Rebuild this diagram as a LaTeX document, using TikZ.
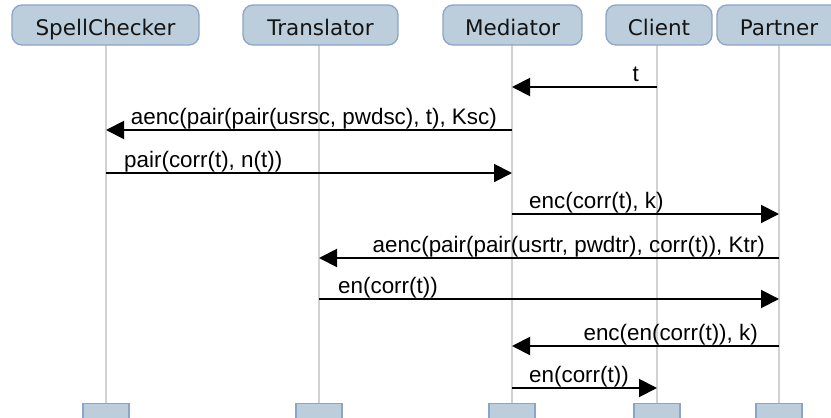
\documentclass[tikz,border=0pt]{standalone}
\usepackage{fontspec}
\setmainfont{Liberation Sans}
\newfontfamily\headfont{DejaVu Sans}
\usetikzlibrary{arrows.meta,calc}
\definecolor{boxfill}{RGB}{188,206,219}
\definecolor{boxline}{RGB}{140,164,198}
\definecolor{lifegray}{RGB}{210,210,210}
\definecolor{headtext}{RGB}{20,20,20}
\tikzset{
  head/.style={draw=boxline, line width=1.3pt, fill=boxfill, rounded corners=10pt,
    minimum height=40pt, inner sep=0pt, text height=20pt, text depth=0pt,
    font=\headfont\fontsize{21.5}{24}\selectfont, text=headtext},
  foot/.style={draw=boxline, line width=1.3pt, fill=boxfill, minimum width=46pt,
    minimum height=30pt, inner sep=0pt, anchor=north},
  life/.style={draw=lifegray, line width=2pt},
  msg/.style={draw=black, line width=2pt, -{Triangle[length=18pt,width=18pt]}},
  lbl/.style={font=\fontsize{22.4}{26}\selectfont, inner sep=0pt},
}
\begin{document}
\begin{tikzpicture}[x=1pt,y=-1pt]
\useasboundingbox (0,0) rectangle (831,418);
\clip (0,0) rectangle (831,418);
\fill[white] (0,0) rectangle (831,418);
% lifelines
\foreach \n/\x in {sc/106,tr/319,me/512,cl/657,pa/779}{
  \coordinate (\n top) at (\x,45);
  \coordinate (\n bot) at (\x,403);
  \draw[life] (\n top) -- (\n bot);
  \node[foot] (\n foot) at (\n bot) {};
}
% heads
\node[head, minimum width=187pt] (sc) at (105.5,25) {SpellChecker};
\node[head, minimum width=155pt] (tr) at (320.5,25) {Translator};
\node[head, minimum width=139pt] (me) at (512.5,25) {Mediator};
\node[head, minimum width=106pt] (cl) at (659,25) {Client};
\node[head, minimum width=124pt] (pa) at (779,25) {Partner};
% message levels
\foreach \i/\y in {1/87,2/130,3/173,4/214,5/258,6/299,7/346,8/388}{
  \coordinate (y\i) at (0,\y);
}
% 1
\draw[msg] (cltop |- y1) -- (metop |- y1);
\node[lbl, anchor=base east] (l1) at ($(cltop |- y1)+(-18,-5.5)$) {t};
% 2
\draw[msg] (metop |- y2) -- (sctop |- y2);
\node[lbl, anchor=base east] (l2) at ($(metop |- y2)+(-15,-5.5)$) {aenc(pair(pair(usrsc, pwdsc), t), Ksc)};
% 3
\draw[msg] (sctop |- y3) -- (metop |- y3);
\node[lbl, anchor=base west] (l3) at ($(sctop |- y3)+(18,-5.5)$) {pair(corr(t), n(t))};
% 4
\draw[msg] (metop |- y4) -- (patop |- y4);
\node[lbl, anchor=base west] (l4) at ($(metop |- y4)+(17,-5.5)$) {enc(corr(t), k)};
% 5
\draw[msg] (patop |- y5) -- (trtop |- y5);
\node[lbl, anchor=base east] (l5) at ($(patop |- y5)+(-14,-5.5)$) {aenc(pair(pair(usrtr, pwdtr), corr(t)), Ktr)};
% 6
\draw[msg] (trtop |- y6) -- (patop |- y6);
\node[lbl, anchor=base west] (l6) at ($(trtop |- y6)+(19,-5.5)$) {en(corr(t))};
% 7
\draw[msg] (patop |- y7) -- (metop |- y7);
\node[lbl, anchor=base east] (l7) at ($(patop |- y7)+(-21,-5.5)$) {enc(en(corr(t)), k)};
% 8
\draw[msg] (metop |- y8) -- (cltop |- y8);
\node[lbl, anchor=base west] (l8) at ($(metop |- y8)+(17,-5.5)$) {en(corr(t))};
\end{tikzpicture}
\end{document}
